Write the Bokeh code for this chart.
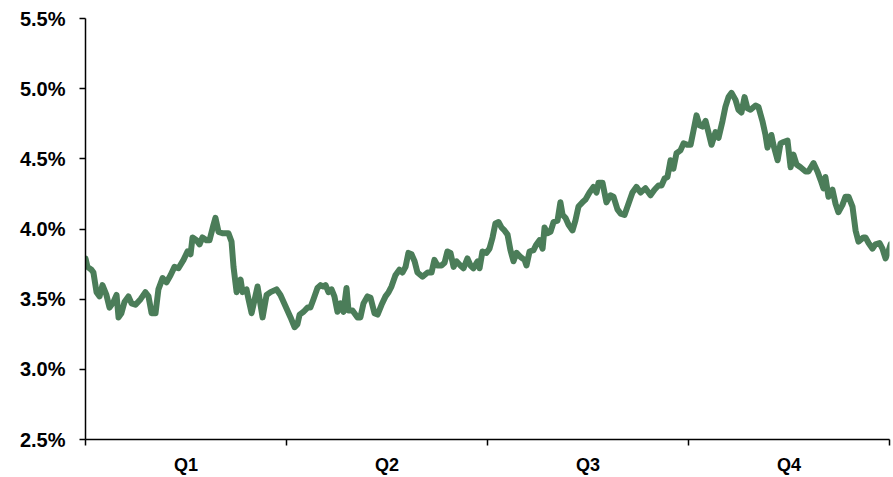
from bokeh.plotting import figure
from bokeh.models import FixedTicker, CustomJSTickFormatter, Range1d, ColumnDataSource
from bokeh.embed import file_html
from bokeh.resources import INLINE

quarter_labels = ["Q1", "Q2", "Q3", "Q4"]
quarter_edges = [0, 91.25, 182.5, 273.75, 365]
quarter_mids = [45.625, 136.875, 228.125, 319.375]
y_ticks = [2.5, 3.0, 3.5, 4.0, 4.5, 5.0, 5.5]

days = [
    0, 0.9, 2.7, 3.6, 5.0, 6.4, 7.7, 9.5, 10.9, 12.7,
    14.1, 15.0, 16.3, 17.7, 19.5, 20.9, 22.7, 25.0, 27.2, 28.6,
    30.0, 31.8, 33.1, 35.0, 36.8, 38.6, 40.4, 42.2, 44.5, 46.3,
    47.7, 48.6, 50.4, 51.8, 53.1, 54.9, 56.3, 58.1, 59.0, 60.4,
    62.2, 64.9, 66.3, 67.2, 68.6, 70.4, 71.3, 73.1, 74.0, 75.4,
    78.1, 80.4, 82.2, 84.0, 86.7, 88.5, 90.8, 93.1, 94.9, 96.2,
    97.2, 99.0, 100.8, 102.1, 103.5, 105.3, 106.7, 108.0, 109.0, 110.3,
    111.7, 113.0, 114.4, 115.8, 117.1, 118.5, 119.4, 121.2, 123.5, 124.8,
    126.2, 128.0, 129.4, 131.2, 132.6, 134.4, 136.2, 137.6, 138.9, 140.7,
    142.5, 143.9, 145.3, 146.6, 148.0, 149.4, 150.7, 153.0, 155.3, 157.1,
    158.4, 159.8, 161.6, 163.0, 164.3, 165.7, 167.1, 168.4, 170.2, 171.6,
    173.4, 174.8, 176.1, 178.0, 178.9, 180.2, 182.0, 183.4, 184.8, 186.1,
    187.5, 188.9, 190.2, 191.6, 192.9, 194.3, 195.7, 197.5, 199.3, 200.2,
    201.6, 203.4, 204.7, 206.1, 207.5, 208.4, 209.7, 211.1, 212.5, 214.3,
    215.6, 216.6, 217.9, 219.3, 221.1, 222.4, 223.8, 225.6, 227.0, 228.8,
    230.6, 232.0, 232.9, 234.7, 236.5, 238.3, 239.7, 241.5, 242.9, 244.7,
    246.5, 248.3, 250.1, 252.0, 254.2, 256.5, 258.3, 260.1, 261.5, 262.9,
    264.2, 265.6, 266.9, 268.3, 270.1, 271.5, 273.3, 274.7, 276.0, 277.4,
    278.7, 280.1, 281.5, 282.8, 284.2, 286.0, 287.4, 289.2, 290.5, 291.9,
    293.3, 295.1, 296.4, 297.8, 299.2, 300.5, 301.9, 304.2, 305.5, 307.3,
    308.7, 309.6, 311.4, 312.3, 314.2, 315.5, 316.9, 318.7, 320.1, 321.4,
    322.8, 324.6, 326.9, 328.2, 330.5, 332.3, 333.7, 335.0, 335.9, 337.3,
    339.1, 340.5, 341.8, 343.6, 345.0, 346.4, 348.2, 349.6, 350.9, 353.2,
    354.1, 355.5, 357.3, 358.6, 360.5, 361.8, 363.2, 364.5, 365.5,
]

rates = [
    3.79, 3.73, 3.71, 3.69, 3.55, 3.52, 3.60, 3.53, 3.44, 3.48,
    3.53, 3.37, 3.40, 3.48, 3.52, 3.47, 3.46, 3.50, 3.55, 3.52,
    3.40, 3.40, 3.57, 3.65, 3.62, 3.67, 3.73, 3.72, 3.78, 3.84,
    3.82, 3.94, 3.92, 3.89, 3.94, 3.92, 3.92, 4.03, 4.08, 3.98,
    3.97, 3.97, 3.91, 3.73, 3.55, 3.64, 3.55, 3.57, 3.50, 3.40,
    3.59, 3.37, 3.53, 3.55, 3.57, 3.53, 3.45, 3.37, 3.30, 3.32,
    3.39, 3.41, 3.44, 3.44, 3.50, 3.58, 3.60, 3.59, 3.60, 3.55,
    3.57, 3.52, 3.41, 3.47, 3.41, 3.58, 3.42, 3.42, 3.37, 3.37,
    3.47, 3.52, 3.51, 3.40, 3.39, 3.46, 3.52, 3.55, 3.59, 3.67,
    3.71, 3.69, 3.73, 3.83, 3.82, 3.77, 3.69, 3.66, 3.69, 3.69,
    3.78, 3.74, 3.74, 3.76, 3.84, 3.83, 3.73, 3.77, 3.74, 3.72,
    3.79, 3.74, 3.72, 3.77, 3.72, 3.84, 3.83, 3.86, 3.94, 4.04,
    4.05, 4.01, 3.99, 3.96, 3.85, 3.77, 3.83, 3.80, 3.78, 3.74,
    3.84, 3.85, 3.89, 3.92, 3.86, 4.01, 3.97, 3.98, 4.05, 4.06,
    4.19, 4.10, 4.08, 4.03, 3.99, 4.06, 4.16, 4.19, 4.21, 4.26,
    4.30, 4.26, 4.33, 4.33, 4.19, 4.24, 4.23, 4.14, 4.11, 4.10,
    4.18, 4.26, 4.30, 4.26, 4.29, 4.24, 4.28, 4.31, 4.31, 4.36,
    4.37, 4.49, 4.43, 4.54, 4.56, 4.61, 4.60, 4.60, 4.70, 4.81,
    4.74, 4.73, 4.77, 4.69, 4.60, 4.69, 4.65, 4.77, 4.87, 4.94,
    4.97, 4.92, 4.85, 4.83, 4.94, 4.86, 4.85, 4.88, 4.87, 4.77,
    4.67, 4.58, 4.67, 4.60, 4.49, 4.61, 4.62, 4.63, 4.44, 4.53,
    4.46, 4.44, 4.41, 4.41, 4.47, 4.41, 4.35, 4.29, 4.37, 4.23,
    4.28, 4.18, 4.12, 4.17, 4.23, 4.23, 4.16, 3.99, 3.91, 3.94,
    3.94, 3.90, 3.86, 3.89, 3.90, 3.86, 3.79, 3.84, 3.89,
]

source = ColumnDataSource(data=dict(day=days, rate=rates))

p = figure(width=893, height=477, output_backend="svg", toolbar_location=None,
           x_range=Range1d(quarter_edges[0], quarter_edges[-1]),
           y_range=Range1d(y_ticks[0], y_ticks[-1]),
           min_border_left=85, min_border_right=4, min_border_top=18,
           min_border_bottom=37)

p.line("day", "rate", source=source, line_color="#4b7d59", line_width=6,
       line_join="round", line_cap="round")

p.outline_line_color = None
p.grid.visible = False
p.background_fill_color = "white"
p.border_fill_color = "white"

font = "Liberation Sans"

xa = p.xaxis[0]
xa.ticker = FixedTicker(ticks=quarter_mids, minor_ticks=quarter_edges)
xa.formatter = CustomJSTickFormatter(args=dict(labels=quarter_labels),
                                     code="return labels[index] || '';")
xa.major_tick_in = 0
xa.major_tick_out = 0
xa.minor_tick_in = 0
xa.minor_tick_out = 6
xa.minor_tick_line_color = "black"
xa.minor_tick_line_width = 1.5
xa.axis_line_color = "black"
xa.axis_line_width = 1.5
xa.major_label_standoff = 9
xa.major_label_text_font = font
xa.major_label_text_font_style = "bold"
xa.major_label_text_font_size = "18px"
xa.major_label_text_color = "black"

ya = p.yaxis[0]
ya.ticker = FixedTicker(ticks=y_ticks, minor_ticks=[])
ya.formatter = CustomJSTickFormatter(code="return tick.toFixed(1) + '%';")
ya.major_tick_in = 0
ya.major_tick_out = 6
ya.major_tick_line_color = "black"
ya.major_tick_line_width = 1.5
ya.axis_line_color = "black"
ya.axis_line_width = 1.5
ya.major_label_standoff = 14
ya.major_label_text_font = font
ya.major_label_text_font_style = "bold"
ya.major_label_text_font_size = "20px"
ya.major_label_text_color = "black"

open("out.html", "w").write(file_html(p, INLINE))
